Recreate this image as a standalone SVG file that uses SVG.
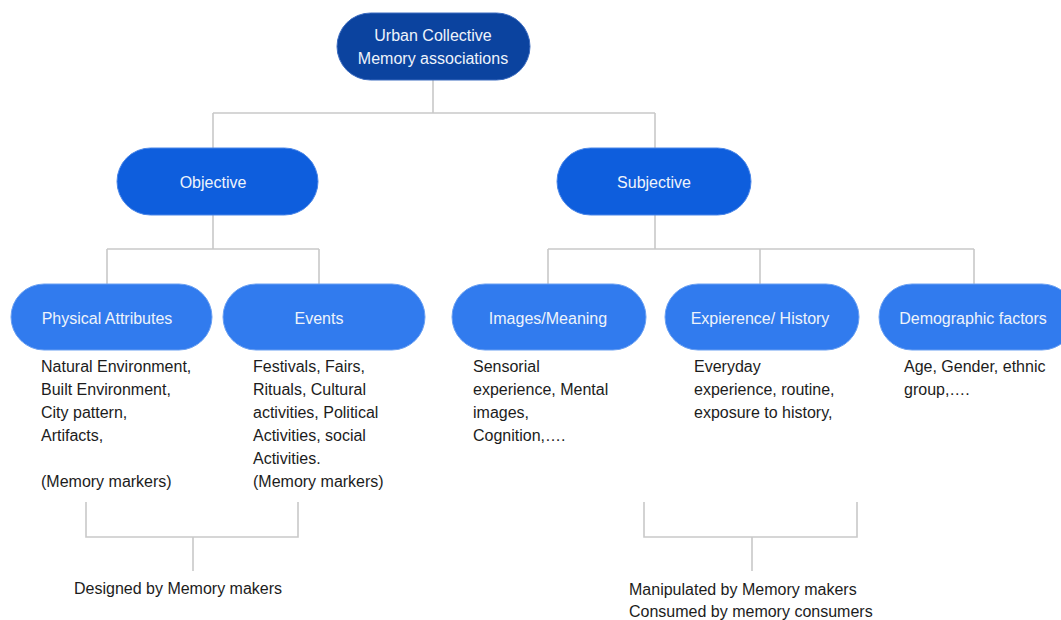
<svg xmlns="http://www.w3.org/2000/svg" width="1061" height="620" viewBox="0 0 1061 620">
<style>
.conn{fill:none;stroke:#c9c9c9;stroke-width:1.6}
.lbl{font-family:"Liberation Sans",Arial,sans-serif;font-size:16px;fill:#eef3fb;text-anchor:middle}
.body{font-family:"Liberation Sans",Arial,sans-serif;font-size:16px;fill:#1c1c1c}
.n0{fill:#0b439f;stroke:#3c6cc0;stroke-width:1}
.n1{fill:#0e5edd;stroke:#4a86e8;stroke-width:1}
.n2{fill:#317bee;stroke:#6aa0f2;stroke-width:1}
</style>
<rect width="1061" height="620" fill="#ffffff"/>
<g id="connectors">
<path class="conn" d="M433 80V113M213 113H655M213 113V148M655 113V148"/>
<path class="conn" d="M213 215V249M107 249H319M107 249V284M319 249V284"/>
<path class="conn" d="M655 215V249M548 249H974M548 249V284M760 249V284M974 249V284"/>
<path class="conn" d="M86 502V537H298V502M193 537V571"/>
<path class="conn" d="M644 502V537H857V502M752 537V571"/>
</g>
<g id="root">
<rect class="n0" x="337" y="13" width="193" height="67" rx="33.5"/>
<text class="lbl" x="433" y="41">Urban Collective</text>
<text class="lbl" x="433" y="64">Memory associations</text>
</g>
<g id="objective">
<rect class="n1" x="117" y="148" width="201" height="67" rx="33.5"/>
<text class="lbl" x="213" y="188">Objective</text>
</g>
<g id="subjective">
<rect class="n1" x="557" y="148" width="194" height="67" rx="33.5"/>
<text class="lbl" x="654" y="188">Subjective</text>
</g>
<g id="physical">
<rect class="n2" x="11" y="284" width="201" height="66" rx="33"/>
<text class="lbl" x="107" y="324">Physical Attributes</text>
<text class="body" x="41" y="372">Natural Environment,</text>
<text class="body" x="41" y="395">Built Environment,</text>
<text class="body" x="41" y="418">City pattern,</text>
<text class="body" x="41" y="441">Artifacts,</text>
<text class="body" x="41" y="487">(Memory markers)</text>
</g>
<g id="events">
<rect class="n2" x="223" y="284" width="202" height="66" rx="33"/>
<text class="lbl" x="319" y="324">Events</text>
<text class="body" x="253" y="372">Festivals, Fairs,</text>
<text class="body" x="253" y="395">Rituals, Cultural</text>
<text class="body" x="253" y="418">activities, Political</text>
<text class="body" x="253" y="441">Activities, social</text>
<text class="body" x="253" y="464">Activities.</text>
<text class="body" x="253" y="487">(Memory markers)</text>
</g>
<g id="images">
<rect class="n2" x="452" y="284" width="194" height="66" rx="33"/>
<text class="lbl" x="548" y="324">Images/Meaning</text>
<text class="body" x="473" y="372">Sensorial</text>
<text class="body" x="473" y="395">experience, Mental</text>
<text class="body" x="473" y="418">images,</text>
<text class="body" x="473" y="441">Cognition,….</text>
</g>
<g id="experience">
<rect class="n2" x="665" y="284" width="194" height="66" rx="33"/>
<text class="lbl" x="760" y="324">Expierence/ History</text>
<text class="body" x="694" y="372">Everyday</text>
<text class="body" x="694" y="395">experience, routine,</text>
<text class="body" x="694" y="418">exposure to history,</text>
</g>
<g id="demographic">
<rect class="n2" x="879" y="284" width="196" height="66" rx="33"/>
<text class="lbl" x="973" y="324">Demographic factors</text>
<text class="body" x="904" y="372">Age, Gender, ethnic</text>
<text class="body" x="904" y="395">group,….</text>
</g>
<g id="designed">
<text class="body" x="74" y="594">Designed by Memory makers</text>
</g>
<g id="manipulated">
<text class="body" x="629" y="595">Manipulated by Memory makers</text>
<text class="body" x="629" y="617">Consumed by memory consumers</text>
</g>
</svg>
